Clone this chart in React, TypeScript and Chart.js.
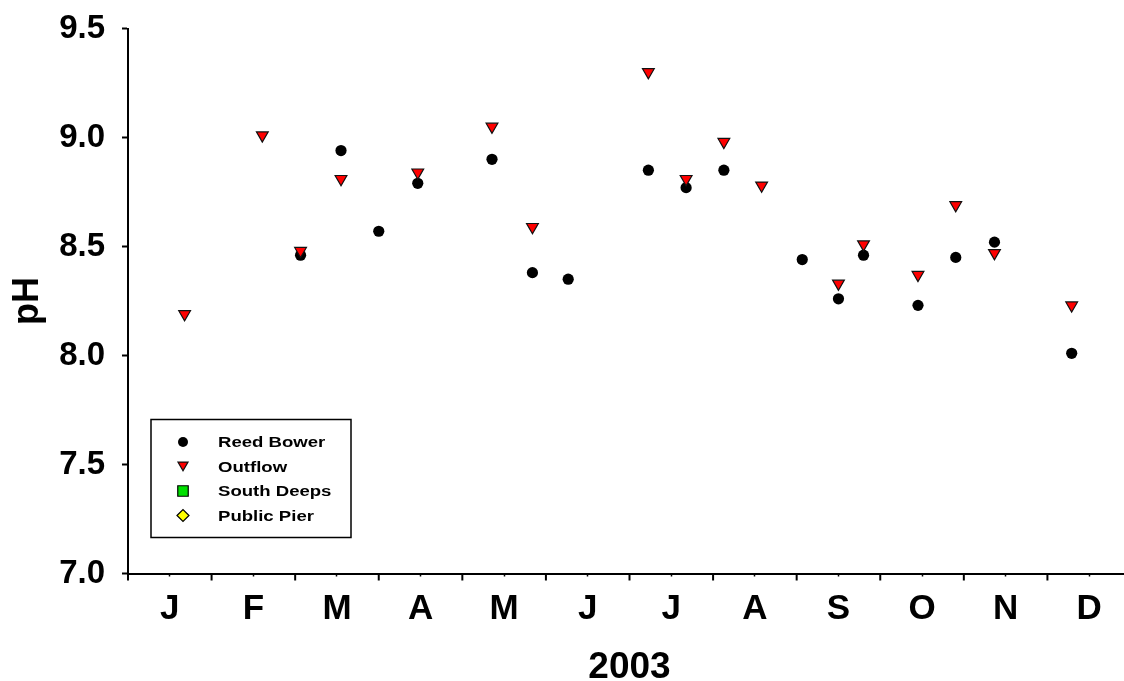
import React, { useEffect, useRef } from 'react';
import { Chart, registerables } from 'chart.js';
import { drawPoint } from 'chart.js/helpers';

Chart.register(...registerables);

// Axis labels
const MONTH_LABELS = ['J', 'F', 'M', 'A', 'M', 'J', 'J', 'A', 'S', 'O', 'N', 'D'];
const DAYS_IN_MONTH = [31, 28, 31, 30, 31, 30, 31, 31, 30, 31, 30, 31];
const Y_TICKS = [7.0, 7.5, 8.0, 8.5, 9.0, 9.5];

// Sampling sites, 2003
const reedBowerDates = [
  '2003-03-03', '2003-03-18', '2003-04-01', '2003-04-15', '2003-05-12', '2003-05-27',
  '2003-06-09', '2003-07-08', '2003-07-22', '2003-08-05', '2003-09-03', '2003-09-16',
  '2003-09-25', '2003-10-15', '2003-10-29', '2003-11-12', '2003-12-10',
];
const reedBowerPH = [
  8.46, 8.94, 8.57, 8.79, 8.9, 8.38, 8.35, 8.85, 8.77, 8.85, 8.44, 8.26, 8.46, 8.23, 8.45, 8.52, 8.01,
];

const outflowDates = [
  '2003-01-22', '2003-02-18', '2003-03-03', '2003-03-18', '2003-04-15', '2003-05-12',
  '2003-05-27', '2003-07-08', '2003-07-22', '2003-08-05', '2003-08-19', '2003-09-16',
  '2003-09-25', '2003-10-15', '2003-10-29', '2003-11-12', '2003-12-10',
];
const outflowPH = [
  8.19, 9.01, 8.48, 8.81, 8.84, 9.05, 8.59, 9.3, 8.81, 8.98, 8.78, 8.33, 8.51, 8.37, 8.69, 8.47, 8.23,
];

const southDeepsDates: string[] = [];
const southDeepsPH: number[] = [];
const publicPierDates: string[] = [];
const publicPierPH: number[] = [];

const FONT = '"Liberation Sans", Arial, Helvetica, sans-serif';

// Each month takes one unit on the x axis
function monthPos(date: string): number {
  const [, m, d] = date.split('-').map(Number);
  return m - 1 + (d - 1) / DAYS_IN_MONTH[m - 1];
}

function toPoints(dates: string[], values: number[]) {
  return dates.map((d, i) => ({ x: monthPos(d), y: values[i] }));
}

// Longer, heavier tick marks at month boundaries
const monthBoundaryTicks = {
  id: 'monthBoundaryTicks',
  afterDraw(chart: any) {
    const xs = chart.scales.x;
    const ctx = chart.ctx;
    const y0 = chart.chartArea.bottom;
    ctx.save();
    ctx.strokeStyle = '#000';
    ctx.lineWidth = 2;
    for (let i = 0; i <= MONTH_LABELS.length; i++) {
      const px = xs.getPixelForValue(i);
      ctx.beginPath();
      ctx.moveTo(px, y0);
      ctx.lineTo(px, y0 + 7);
      ctx.stroke();
    }
    ctx.restore();
  },
};

// Boxed legend inside the lower-left of the plot
const boxedLegend = {
  id: 'boxedLegend',
  afterDraw(chart: any) {
    const ctx = chart.ctx;
    const ca = chart.chartArea;
    const left = ca.left + 23;
    const top = ca.bottom - 154;
    const w = 200;
    const h = 118;
    ctx.save();
    ctx.fillStyle = '#fff';
    ctx.fillRect(left, top, w, h);
    ctx.strokeStyle = '#000';
    ctx.lineWidth = 1.5;
    ctx.strokeRect(left, top, w, h);

    const sizes: Record<string, number> = { circle: 5, triangle: 5.8, rect: 7.4, rectRot: 6 };
    chart.data.datasets.forEach((ds: any, i: number) => {
      const cy = top + 22.5 + i * 24.5;
      const mx = left + 32;
      ctx.fillStyle = ds.backgroundColor;
      ctx.strokeStyle = ds.borderColor;
      ctx.lineWidth = ds.borderWidth || 0;
      drawPoint(
        ctx,
        {
          pointStyle: ds.pointStyle,
          rotation: ds.rotation || 0,
          radius: sizes[ds.pointStyle] || 5,
          borderWidth: ds.borderWidth || 0,
        } as any,
        mx,
        cy + (ds.pointStyle === 'triangle' ? -1.5 : 0)
      );
      ctx.fillStyle = '#000';
      ctx.font = `bold 14.5px ${FONT}`;
      ctx.textBaseline = 'alphabetic';
      ctx.textAlign = 'left';
      ctx.save();
      ctx.translate(left + 67, cy + 5.2);
      ctx.scale(1.28, 1);
      ctx.fillText(ds.label, 0, 0);
      ctx.restore();
    });
    ctx.restore();
  },
};

export default function App() {
  const canvasRef = useRef<HTMLCanvasElement | null>(null);

  useEffect(() => {
    if (!canvasRef.current) return;
    const chart = new Chart(canvasRef.current, {
      type: 'scatter',
      data: {
        datasets: [
          {
            label: 'Reed Bower',
            data: toPoints(reedBowerDates, reedBowerPH),
            pointStyle: 'circle',
            pointRadius: 5.6,
            backgroundColor: '#000',
            borderColor: '#000',
            borderWidth: 0,
            order: 1,
          },
          {
            label: 'Outflow',
            data: toPoints(outflowDates, outflowPH),
            pointStyle: 'triangle',
            rotation: 180,
            pointRadius: 6.8,
            backgroundColor: '#ff0000',
            borderColor: '#111',
            borderWidth: 1.2,
            order: 0,
          },
          {
            label: 'South Deeps',
            data: toPoints(southDeepsDates, southDeepsPH),
            pointStyle: 'rect',
            pointRadius: 6,
            backgroundColor: '#00e000',
            borderColor: '#000',
            borderWidth: 1.2,
          },
          {
            label: 'Public Pier',
            data: toPoints(publicPierDates, publicPierPH),
            pointStyle: 'rectRot',
            pointRadius: 6,
            backgroundColor: '#ffff00',
            borderColor: '#000',
            borderWidth: 1.2,
          },
        ] as any,
      },
      options: {
        responsive: false,
        devicePixelRatio: 1,
        animation: false,
        layout: { padding: { top: 28.5, left: 0, right: 9, bottom: 0 } },
        plugins: {
          legend: { display: false },
          tooltip: { enabled: false },
        },
        scales: {
          x: {
            type: 'linear',
            min: 0,
            max: 12,
            afterBuildTicks: (s: any) => {
              s.ticks = MONTH_LABELS.map((_, i) => ({ value: i + 0.5 }));
            },
            afterFit: (s: any) => {
              s.height = 107.5;
            },
            ticks: {
              autoSkip: false,
              maxRotation: 0,
              minRotation: 0,
              color: '#000',
              padding: 15,
              font: { family: FONT, size: 35, weight: 'bold', lineHeight: 1 },
              callback: (_v: any, i: number) => MONTH_LABELS[i],
            },
            grid: {
              drawOnChartArea: false,
              drawTicks: true,
              tickLength: 3,
              tickWidth: 1.5,
              tickColor: '#000',
            },
            border: { display: true, color: '#000', width: 2 },
            title: {
              display: true,
              text: '2003',
              color: '#000',
              font: { family: FONT, size: 37, weight: 'bold', lineHeight: 1 },
              padding: { top: 0, bottom: -5.5 },
            },
          },
          y: {
            type: 'linear',
            min: 7,
            max: 9.5,
            afterBuildTicks: (s: any) => {
              s.ticks = Y_TICKS.map((v) => ({ value: v }));
            },
            afterFit: (s: any) => {
              s.width = 128;
              // the plot top is set by the layout padding alone
              s.paddingTop = 0;
              s.paddingBottom = 0;
            },
            ticks: {
              color: '#000',
              padding: 17,
              font: { family: FONT, size: 33, weight: 'bold', lineHeight: 1 },
              callback: (v: any) => Number(v).toFixed(1),
            },
            grid: {
              drawOnChartArea: false,
              drawTicks: true,
              tickLength: 6,
              tickWidth: 2,
              tickColor: '#000',
            },
            border: { display: true, color: '#000', width: 2 },
            title: {
              display: true,
              text: 'pH',
              color: '#000',
              font: { family: FONT, size: 36, weight: 'bold', lineHeight: 1 },
              padding: { top: 10, bottom: 0 },
            },
          },
        },
      } as any,
      plugins: [monthBoundaryTicks, boxedLegend],
    });
    return () => chart.destroy();
  }, []);

  return (
    <div
      style={{
        position: 'absolute',
        left: 0,
        top: 0,
        width: 1124,
        height: 681,
        overflow: 'hidden',
        background: '#fff',
      }}
    >
      <canvas ref={canvasRef} width={1140} height={681} style={{ display: 'block', width: 1140, height: 681 }} />
    </div>
  );
}
